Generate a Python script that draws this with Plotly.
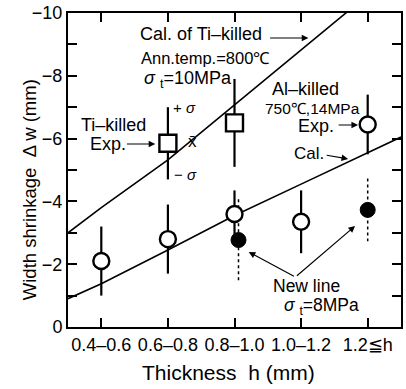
import plotly.graph_objects as go

# ---------------- data ----------------
categories = ["0.4–0.6", "0.6–0.8", "0.8–1.0", "1.0–1.2", "1.2≦h"]
cat_pos = [0, 1, 2, 3, 4]

# Al-killed experiment (open circles): mean and +-sigma
al_exp_mean = [-2.1, -2.8, -3.6, -3.35, -6.45]
al_exp_sd = [1.1, 1.1, 0.75, 1.0, 0.95]

# Ti-killed experiment (open squares)
ti_exp_idx = [1, 2]
ti_exp_mean = [-5.85, -6.5]
ti_exp_sd = [1.15, 1.4]

# New line, sigma_t = 8 MPa (filled circles)
new_idx = [2.06, 4]
new_mean = [-2.77, -3.73]
new_sd = [1.3, 1.0]

# Calculated curves
cal_x = [-0.5, 0, 1, 2, 3, 4, 4.5]
ti_cal = [-3.0, -3.8, -5.32, -7.07, -8.82, -10.57, -11.45]
al_cal = [-0.9, -1.38, -2.45, -3.55, -4.55, -5.55, -6.05]

yticks = list(range(0, -11, -1))
ytick_text = ["0" if v == 0 else ("−" + str(-v) if v % 2 == 0 else "") for v in yticks]

FONT = "Liberation Sans, Arial, sans-serif"
NB = "\u00a0"


def err_segments(xs, means, sds):
    sx, sy = [], []
    for x, m, s in zip(xs, means, sds):
        sx += [x, x, None]
        sy += [m - s, m + s, None]
    return sx, sy


fig = go.Figure()

# calculated lines
fig.add_trace(go.Scatter(x=cal_x, y=ti_cal, mode="lines",
                         line=dict(color="black", width=1.6), hoverinfo="skip"))
fig.add_trace(go.Scatter(x=cal_x, y=al_cal, mode="lines",
                         line=dict(color="black", width=1.6), hoverinfo="skip"))

# error bars
ex, ey = err_segments(cat_pos, al_exp_mean, al_exp_sd)
fig.add_trace(go.Scatter(x=ex, y=ey, mode="lines",
                         line=dict(color="black", width=2.2)))
ex, ey = err_segments(ti_exp_idx, ti_exp_mean, ti_exp_sd)
fig.add_trace(go.Scatter(x=ex, y=ey, mode="lines",
                         line=dict(color="black", width=2.2)))
ex, ey = err_segments(new_idx, new_mean, new_sd)
fig.add_trace(go.Scatter(x=ex, y=ey, mode="lines",
                         line=dict(color="black", width=1.5, dash="dot")))

# markers
fig.add_trace(go.Scatter(x=cat_pos, y=al_exp_mean, mode="markers",
                         marker=dict(symbol="circle", size=16, color="white",
                                     line=dict(color="black", width=2.4))))
fig.add_trace(go.Scatter(x=ti_exp_idx, y=ti_exp_mean, mode="markers",
                         marker=dict(symbol="square", size=17, color="white",
                                     line=dict(color="black", width=2.4))))
fig.add_trace(go.Scatter(x=new_idx, y=new_mean, mode="markers",
                         marker=dict(symbol="circle", size=15, color="black",
                                     line=dict(color="black", width=1))))


# ------------- annotations -------------
def px2x(px):
    return (px - 101.7) / 67.0


def py2y(py):
    return -(327.0 - py) / 31.4


def text(px, py, s, size=18, anchor="center"):
    fig.add_annotation(x=px2x(px), y=py2y(py), xref="x", yref="y", text=s,
                       showarrow=False, xanchor=anchor, yanchor="middle",
                       font=dict(family=FONT, size=size, color="black"))


def arrow(x0, y0, x1, y1):
    fig.add_annotation(x=px2x(x1), y=py2y(y1), ax=px2x(x0), ay=py2y(y0),
                       xref="x", yref="y", axref="x", ayref="y", text="",
                       showarrow=True, arrowhead=2, arrowsize=1.1,
                       arrowwidth=1.2, arrowcolor="black")


text(202, 34, "Cal. of Ti–killed", 18)
arrow(270, 38, 310, 38)
text(207, 58, "Ann.temp.=800℃", 16.5)
text(143, 79, "<i>σ</i> <sub>t</sub>=10MPa", 18, "left")
text(172, 107, "+ <i>σ</i>", 15, "left")
text(187, 141, "x̄", 17, "left")
text(173, 174, "− <i>σ</i>", 15, "left")
text(114, 125, "Ti–killed", 18)
text(108, 144, "Exp.", 18)
arrow(126, 144, 156, 144)
text(307, 89, "Al–killed", 18)
text(314, 108, "750℃,14MPa", 15.5)
text(318, 126, "Exp.", 18)
arrow(339, 125, 360, 125)
text(311, 153, "Cal.", 17)
arrow(327, 155, 350, 159)
text(308, 286, "New line", 17.5)
text(283, 306, "<i>σ</i> <sub>t</sub>=8MPa", 17.5, "left")
arrow(297, 277, 250, 252)
arrow(297, 277, 357, 226)

# axis titles as annotations (placed as in the reference)
fig.add_annotation(x=(229 - 68) / 335, y=(327 - 372) / 314, xref="paper", yref="paper",
                   text="Thickness" + NB + NB + "h (mm)", showarrow=False,
                   xanchor="center", yanchor="middle",
                   font=dict(family=FONT, size=21, color="black"))
fig.add_annotation(x=(29 - 68) / 335, y=(327 - 190) / 314, xref="paper", yref="paper",
                   text="Width shrinkage" + NB + NB + "Δ w (mm)", showarrow=False,
                   textangle=-90, xanchor="center", yanchor="middle",
                   font=dict(family=FONT, size=18.5, color="black"))

fig.update_layout(
    width=406, height=389,
    margin=dict(l=68, r=3, t=13, b=62),
    paper_bgcolor="white", plot_bgcolor="white",
    showlegend=False,
    font=dict(family=FONT, size=16, color="black"),
    xaxis=dict(range=[-0.5, 4.5], tickvals=cat_pos, ticktext=categories,
               ticks="inside", ticklen=9, tickwidth=2, tickcolor="black",
               showline=True, linewidth=2, linecolor="black", mirror="ticks",
               showgrid=False, zeroline=False,
               tickfont=dict(family=FONT, size=18, color="black")),
    yaxis=dict(range=[0, -10], tickvals=yticks, ticktext=ytick_text,
               ticks="inside", ticklen=9, tickwidth=2, tickcolor="black",
               showline=True, linewidth=2, linecolor="black", mirror="ticks",
               showgrid=False, zeroline=False,
               tickfont=dict(family=FONT, size=18, color="black")),
)

fig.write_html("out.html")
